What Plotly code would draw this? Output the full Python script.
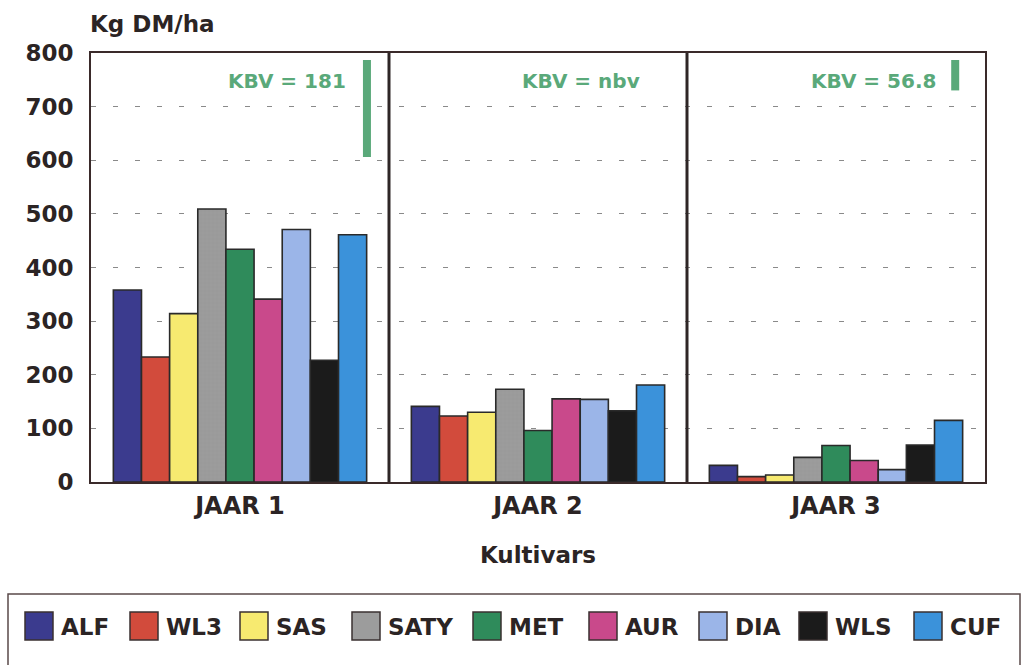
import plotly.graph_objects as go

# data
jaar = ["JAAR 1", "JAAR 2", "JAAR 3"]
kultivars = ["ALF", "WL3", "SAS", "SATY", "MET", "AUR", "DIA", "WLS", "CUF"]
alf = [358, 141, 31]
wl3 = [233, 123, 10]
sas = [314, 130, 13]
saty = [509, 173, 46]
met = [434, 96, 68]
aur = [341, 155, 40]
dia = [471, 154, 23]
wls = [227, 133, 69]
cuf = [461, 181, 115]
kbv = [181, None, 56.8]
kbv_text = ["KBV = 181", "KBV = nbv", "KBV = 56.8"]

values = [alf, wl3, sas, saty, met, aur, dia, wls, cuf]
colors = ["#3b3b8e", "#d24b3c", "#f7ea70", "#9c9c9c", "#2f8b5b",
          "#c9498b", "#9bb5e8", "#1b1b1b", "#3b92da"]
green = "#5aa97a"
ink = "#2b2424"
font = "DejaVu Sans"

W, H = 1022, 665
L, R, T, B = 91, 985, 53, 482


def px(x):
    return (x - L) / (R - L)


def py(y):
    return (B - y) / (B - T)


fig = go.Figure()
for name, vals, col in zip(kultivars, values, colors):
    pattern = None
    if name == "SATY":
        pattern = dict(shape="+", fgcolor="#858585", bgcolor=col, size=4, solidity=0.15)
    fig.add_trace(go.Bar(
        x=jaar, y=vals, name=name, showlegend=False,
        marker=dict(color=col, line=dict(color="#2a2a2a", width=1.6), pattern=pattern),
    ))

shapes = []
annotations = []

# heavy separators between the years
for i in range(1, len(jaar)):
    shapes.append(dict(type="line", xref="x", yref="paper", x0=i - 0.5, x1=i - 0.5,
                       y0=0, y1=1, line=dict(color="#2e2626", width=3)))

# KBV bars and labels (offsets from the centre of each year)
kbv_bar_off = [0.426, 0.4, 0.4]
kbv_lbl_off = [0.362, 0.348, 0.342]
kbv_top = 787
for i, (k, t) in enumerate(zip(kbv, kbv_text)):
    if k is not None:
        shapes.append(dict(type="line", xref="x", yref="y",
                           x0=i + kbv_bar_off[i], x1=i + kbv_bar_off[i],
                           y0=kbv_top, y1=kbv_top - k,
                           line=dict(color=green, width=8)))
    annotations.append(dict(xref="x", yref="y", x=i + kbv_lbl_off[i], y=748,
                            text=t, showarrow=False, xanchor="right", yanchor="middle",
                            font=dict(family=font, size=20, color=green, weight="bold")))

# unit label
annotations.append(dict(xref="paper", yref="paper", x=px(88), y=py(24), text="Kg DM/ha",
                        showarrow=False, xanchor="left", yanchor="middle",
                        font=dict(family=font, size=23, color=ink, weight="bold")))

# legend box drawn by hand so the swatches can be large
shapes.append(dict(type="rect", xref="paper", yref="paper", x0=px(8), x1=px(1020),
                   y0=py(700), y1=py(594), line=dict(color="#5a4a4a", width=1.5),
                   fillcolor="rgba(0,0,0,0)"))
legend_x = [25, 130, 240, 352, 473, 589, 699, 799, 914]
for name, col, lx in zip(kultivars, colors, legend_x):
    shapes.append(dict(type="rect", xref="paper", yref="paper", x0=px(lx), x1=px(lx + 28),
                       y0=py(640), y1=py(612), fillcolor=col,
                       line=dict(color="#3a3030", width=1.5)))
    annotations.append(dict(xref="paper", yref="paper", x=px(lx + 34), y=py(627), text=name,
                            showarrow=False, xanchor="left", yanchor="middle",
                            font=dict(family=font, size=23, color=ink, weight="bold")))

fig.update_layout(
    width=W, height=H,
    margin=dict(l=L, r=W - R, t=T, b=H - B),
    paper_bgcolor="white", plot_bgcolor="white",
    barmode="group", bargap=0.15, bargroupgap=0,
    shapes=shapes, annotations=annotations,
    showlegend=False,
)
fig.update_xaxes(
    showline=True, linecolor="#3a2a2a", linewidth=2, mirror=True,
    showgrid=False, ticks="", ticklabelstandoff=1,
    tickfont=dict(family=font, size=24, color=ink, weight="bold"),
    title=dict(text="Kultivars", standoff=28,
               font=dict(family=font, size=23, color=ink, weight="bold")),
)
fig.update_yaxes(
    range=[0, 800], dtick=100, showline=True, linecolor="#3a2a2a", linewidth=2, mirror=True,
    showgrid=True, gridcolor="#8a8a8a", gridwidth=1, griddash="5px,17px",
    zeroline=False, ticks="", ticklabelstandoff=11,
    tickfont=dict(family=font, size=23, color=ink, weight="bold"),
)

# drop the page's default body margin so the figure sits at the top-left corner
fig.write_html("out.html", config={"displayModeBar": False},
               post_script="document.body.style.margin='0px';")
